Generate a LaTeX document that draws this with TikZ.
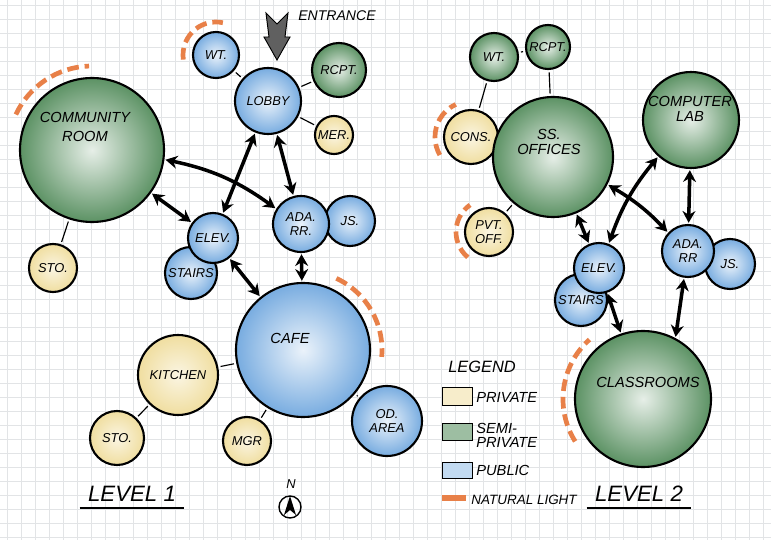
\documentclass[tikz,border=0pt]{standalone}
\usepackage{fontspec}
\setmainfont{Liberation Sans}
\usetikzlibrary{arrows.meta}
\definecolor{privc}{RGB}{240,222,160}
\definecolor{semic}{RGB}{92,146,100}
\definecolor{pubc}{RGB}{120,172,224}
\definecolor{lightc}{RGB}{232,128,72}
\definecolor{gridc}{RGB}{226,228,230}
\begin{document}
\begin{tikzpicture}[x=0.03cm,y=-0.03cm,
  every node/.style={font=\itshape\fontsize{11}{11.5}\selectfont,align=center,inner sep=1pt},
  big/.style={font=\itshape\fontsize{12.5}{13}\selectfont},
  room/.style={circle,draw,line width=1.8pt,inner sep=0pt,minimum size=#1*0.06cm},
  priv/.style={room=#1,inner color=privc!30!white,outer color=privc},
  semi/.style={room=#1,inner color=semic!15!white,outer color=semic},
  pub/.style={room=#1,inner color=pubc!15!white,outer color=pubc},
  tie/.style={line width=1pt,shorten <=2pt,shorten >=2pt},
  link/.style={line width=3pt,{Stealth[length=10pt,width=11pt]}-{Stealth[length=10pt,width=11pt]},shorten <=1pt,shorten >=1pt},
  light/.style={lightc,line width=4pt,dash pattern=on 10pt off 5pt}]
\useasboundingbox[fill=white] (0,0) rectangle (771,540);
% graph paper
\foreach \g in {7,21,...,771} \draw[gridc,line width=0.4pt] (\g,0) -- (\g,540);
\foreach \g in {5,19,...,540} \draw[gridc,line width=0.4pt] (0,\g) -- (771,\g);

% level 1 rooms
\node[semi=72] (comm1) at (92,150) {};
\node[big] (comm1t) at (85,127) {COMMUNITY\\[4pt]ROOM};
\node[priv=24] (sto1a) at (53,268) {STO.};
\node[pub=23] (wt1) at (216,55) {WT.};
\node[pub=33] (lobby1) at (268,101) {LOBBY};
\node[semi=27] (rcpt1) at (339,70) {RCPT.};
\node[priv=19] (mer1) at (334,135) {MER.};
\node[pub=26] (stairs1) at (191,273) {STAIRS};
\node[pub=25] (elev1) at (213,238) {ELEV.};
\node[pub=25] (js1) at (350,221) {JS.};
\node[pub=28] (ada1) at (301,224) {ADA.\\RR.};
\node[pub=67] (cafe1) at (303,350) {};
\node[big] (cafe1t) at (290,338) {CAFE};
\node[priv=40] (kit1) at (178,375) {KITCHEN};
\node[priv=27] (sto1b) at (117,438) {STO.};
\node[priv=24] (mgr1) at (247,441) {MGR};
\node[pub=35] (od1) at (387,421) {OD.\\AREA};

\draw[tie] (wt1) -- (lobby1);
\draw[tie] (lobby1) -- (rcpt1);
\draw[tie] (lobby1) -- (mer1);
\draw[tie] (comm1) -- (sto1a);
\draw[tie] (cafe1) -- (kit1);
\draw[tie] (kit1) -- (sto1b);
\draw[tie] (cafe1) -- (mgr1);
\draw[tie] (cafe1) -- (od1);
\draw[link] (comm1) to[bend left=12] (ada1);
\draw[link] (comm1) -- (elev1);
\draw[link] (lobby1) -- (elev1);
\draw[link] (lobby1) -- (ada1);
\draw[link] (elev1) -- (cafe1);
\draw[link] (ada1) -- (cafe1);

% natural light
\draw[light] (comm1.center) ++(205:84) arc[start angle=205,end angle=268,radius=84];
\draw[light] (wt1.center) ++(172:33) arc[start angle=172,end angle=282,radius=33];
\draw[light] (cafe1.center) ++(295:79) arc[start angle=295,end angle=365,radius=79];

% entrance
\draw[fill=gray!75!black,line width=0.8pt] (266,13) -- (277,24) -- (288,13) -- (285,37) -- (290,37) -- (277,60) -- (264,37) -- (269,37) -- cycle;
\node[font=\itshape\fontsize{12}{12}\selectfont] (entr) at (337,16) {ENTRANCE};

% level 2 rooms
\node[semi=24] (wt2) at (494,57) {WT.};
\node[semi=22] (rcpt2) at (548,47) {RCPT.};
\node[priv=27] (cons2) at (471,137) {CONS.};
\node[semi=60] (ss2) at (553,157) {};
\node[big] (ss2t) at (549,142) {SS.\\OFFICES};
\node[priv=24] (pvt2) at (489,232) {PVT.\\OFF.};
\node[semi=48] (clab2) at (691,120) {};
\node[big] (clab2t) at (690,109) {COMPUTER\\LAB};
\node[pub=26] (stairs2) at (581,300) {STAIRS};
\node[pub=25] (elev2) at (599,268) {ELEV.};
\node[pub=25] (js2) at (730,264) {JS.};
\node[pub=26] (ada2) at (688,251) {ADA.\\RR};
\node[semi=68] (cls2) at (643,399) {};
\node[big] (cls2t) at (648,382) {CLASSROOMS};

\draw[tie] (wt2) -- (rcpt2);
\draw[tie] (rcpt2) -- (ss2);
\draw[tie] (wt2) -- (cons2);
\draw[tie] (cons2) -- (ss2);
\draw[tie] (ss2) -- (pvt2);
\draw[link] (ss2) -- (elev2);
\draw[link] (ss2) to[bend left=8] (ada2);
\draw[link] (clab2) to[bend right=10] (elev2);
\draw[link] (clab2) -- (ada2);
\draw[link] (elev2) -- (cls2);
\draw[link] (ada2) -- (cls2.62);

\draw[light] (cons2.center) ++(150:36) arc[start angle=150,end angle=245,radius=36];
\draw[light] (pvt2.center) ++(130:33) arc[start angle=130,end angle=235,radius=33];
\draw[light] (cls2.center) ++(148:80) arc[start angle=148,end angle=228,radius=80];

% legend
\node[font=\itshape\fontsize{14}{14}\selectfont] (leg) at (482,367) {LEGEND};
\draw[fill=privc!55!white] (442,387) rectangle (472,405);
\node[anchor=west,font=\itshape\fontsize{12.5}{13}\selectfont] (lpriv) at (475,397) {PRIVATE};
\draw[fill=semic!60!white] (442,423) rectangle (472,440);
\node[anchor=west,align=left,font=\itshape\fontsize{12.5}{12}\selectfont] (lsemi) at (475,435) {SEMI-\\PRIVATE};
\draw[fill=pubc!45!white] (442,462) rectangle (472,478);
\node[anchor=west,font=\itshape\fontsize{12.5}{13}\selectfont] (lpub) at (475,470) {PUBLIC};
\draw[lightc,line width=5pt] (442,498) -- (466,498);
\node[anchor=west,font=\itshape\fontsize{11.5}{12}\selectfont] (llight) at (470,500) {NATURAL LIGHT};

% titles
\node[font=\itshape\fontsize{19}{20}\selectfont] (lev1) at (132,494) {LEVEL 1};
\draw[line width=2pt] ([xshift=-6pt,yshift=-4pt]lev1.south west) -- ([xshift=6pt,yshift=-4pt]lev1.south east);
\node[font=\itshape\fontsize{19}{20}\selectfont] (lev2) at (639,494) {LEVEL 2};
\draw[line width=2pt] ([xshift=-6pt,yshift=-4pt]lev2.south west) -- ([xshift=6pt,yshift=-4pt]lev2.south east);

% north
\node[circle,draw,line width=1.2pt,minimum size=0.66cm] (north) at (290,507) {};
\fill (290,496) -- (296,515) -- (290,510) -- (284,515) -- cycle;
\node (northt) at (291,484) {N};
\end{tikzpicture}
\end{document}
